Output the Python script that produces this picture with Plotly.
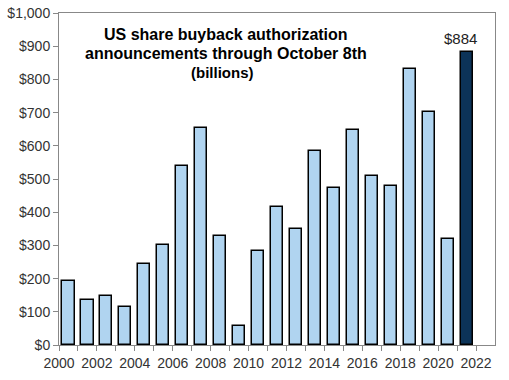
import plotly.graph_objects as go

years = list(range(2000, 2022))
values = [193, 135, 147, 114, 243, 300, 539, 653, 327, 57, 282, 416, 349,
          583, 472, 647, 509, 479, 830, 701, 318, 884]
highlight_year = 2021
light_color = "#b0d4f0"
dark_color = "#0c3358"

x_pos = [y + 0.5 for y in years]
colors = [dark_color if y == highlight_year else light_color for y in years]

fig = go.Figure()
fig.add_trace(go.Bar(
    x=x_pos, y=values, width=0.64,
    marker=dict(color=colors, line=dict(color="black", width=1.5)),
    hoverinfo="skip",
))

hi_val = values[years.index(highlight_year)]
fig.add_annotation(x=highlight_year + 0.5, y=hi_val, text=f"${hi_val}",
                   showarrow=False, yanchor="bottom", yshift=3, xshift=-6,
                   font=dict(family="Arial, Liberation Sans", size=15, color="#222"))

title_font = dict(family="Arial, Liberation Sans", size=16, color="black")
fig.add_annotation(xref="paper", yref="paper", x=0.383, y=0.935,
                   text="<b>US share buyback authorization</b>", showarrow=False,
                   font=title_font, xanchor="center", yanchor="middle")
fig.add_annotation(xref="paper", yref="paper", x=0.383, y=0.877,
                   text="<b>announcements through October 8th</b>", showarrow=False,
                   font=title_font, xanchor="center", yanchor="middle")
fig.add_annotation(xref="paper", yref="paper", x=0.375, y=0.822,
                   text="<b>(billions)</b>", showarrow=False,
                   font=dict(family="Arial, Liberation Sans", size=15, color="black"),
                   xanchor="center", yanchor="middle")

tick_font = dict(family="Arial, Liberation Sans", size=14, color="#333")
fig.update_xaxes(range=[2000, 2023], tickmode="array",
                 tickvals=list(range(2000, 2023, 2)),
                 ticktext=[str(v) for v in range(2000, 2023, 2)],
                 ticks="outside", ticklen=5, tickcolor="#888",
                 minor=dict(tickvals=list(range(2001, 2023, 2)), ticks="outside",
                            ticklen=5, tickcolor="#888"),
                 showline=True, linecolor="#888", linewidth=1, mirror=True,
                 showgrid=False, zeroline=False, tickfont=tick_font,
                 automargin=False)
fig.update_yaxes(range=[0, 1000], dtick=100, tickprefix="$", tickformat=",d",
                 ticks="outside", ticklen=5, tickcolor="#888",
                 showline=True, linecolor="#888", linewidth=1, mirror=True,
                 showgrid=False, zeroline=False, tickfont=tick_font,
                 automargin=False)

fig.update_layout(width=509, height=380, margin=dict(l=59, r=14, t=13, b=35),
                  plot_bgcolor="white", paper_bgcolor="white", showlegend=False,
                  bargap=0)

fig.write_html("out.html", config={"displayModeBar": False},
               post_script="document.body.style.margin='0';document.body.style.overflow='hidden';")
